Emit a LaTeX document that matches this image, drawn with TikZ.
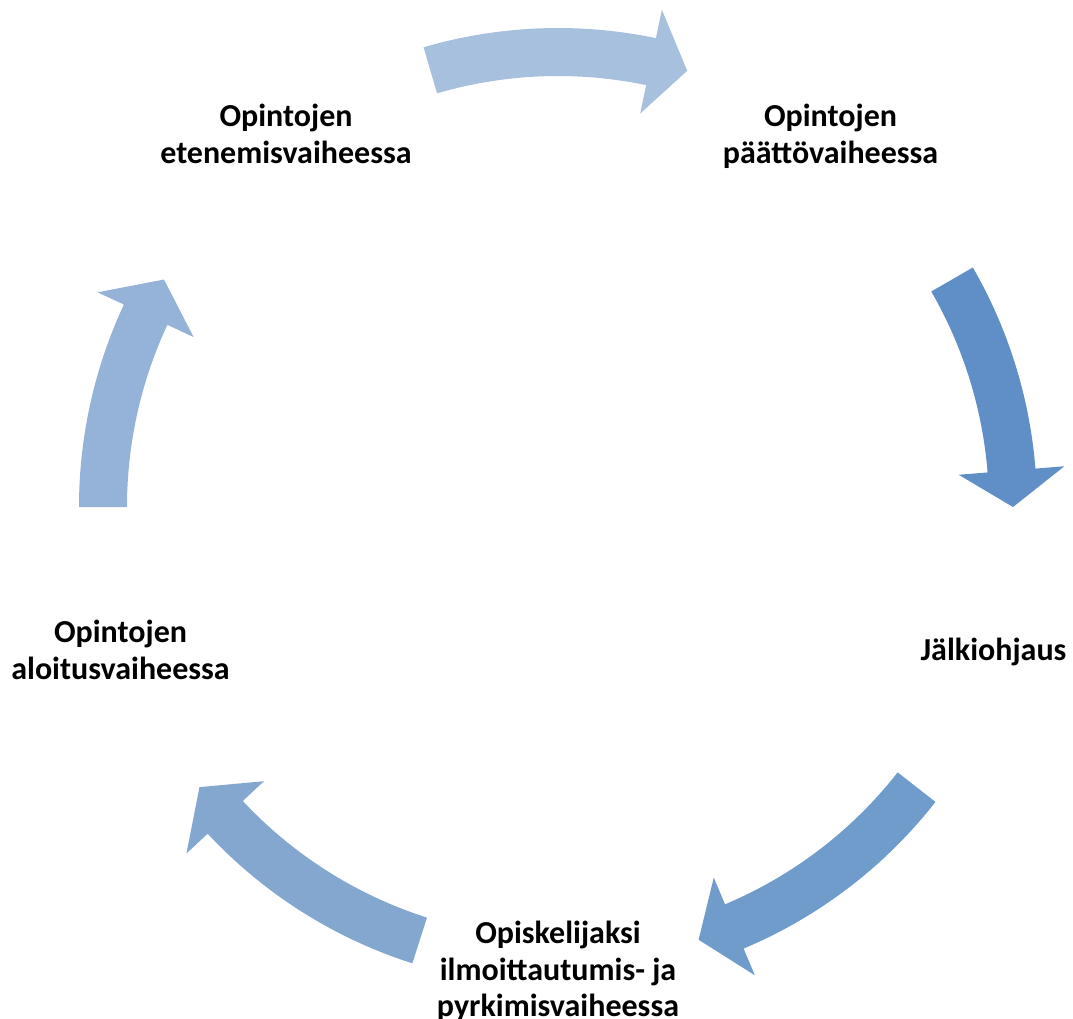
\documentclass[tikz,border=0pt]{standalone}
\usepackage{fontspec}
\setmainfont{Carlito}
\definecolor{arA}{HTML}{A7C0DE}
\definecolor{arB}{HTML}{5F8FC6}
\definecolor{arC}{HTML}{709CCB}
\definecolor{arD}{HTML}{84A7D0}
\definecolor{arE}{HTML}{95B3D8}
\newcommand\cycarrow[4]{%
  \fill[#4] ([shift={(#1:479pt)}]C) arc[start angle=#1, end angle=#2, radius=479pt]
    -- ([shift={(#2:508pt)}]C) -- ([shift={(#3:455pt)}]C) -- ([shift={(#2:402pt)}]C)
    -- ([shift={(#2:431pt)}]C) arc[start angle=#2, end angle=#1, radius=431pt] -- cycle;}
\begin{document}
\begin{tikzpicture}[x=1pt,y=1pt,
  lbl/.style={font=\bfseries\fontsize{32}{36.5}\selectfont, align=center, inner sep=0pt, anchor=base, text=black}]
\useasboundingbox (0,0) rectangle (1073,-1018);
\coordinate (C) at (558,-507);
\cycarrow{106.3}{78.2}{73.5}{arA}
\cycarrow{30}{4.6}{0}{arB}
\cycarrow{-38}{-67.2}{-72}{arC}
\cycarrow{-107.7}{-137}{-142}{arD}
\cycarrow{-180}{-205}{-210}{arE}
\node[lbl] (ete) at (286,-163) {Opintojen\\etenemisvaiheessa};
\node[lbl] (paa) at (830.5,-163) {Opintojen\\päättövaiheessa};
\node[lbl] (jal) at (993.5,-660) {Jälkiohjaus};
\node[lbl] (opi) at (558,-1016.5) {Opiskelijaksi\\ilmoittautumis- ja\\pyrkimisvaiheessa};
\node[lbl] (alo) at (120.5,-679) {Opintojen\\aloitusvaiheessa};
\end{tikzpicture}
\end{document}
